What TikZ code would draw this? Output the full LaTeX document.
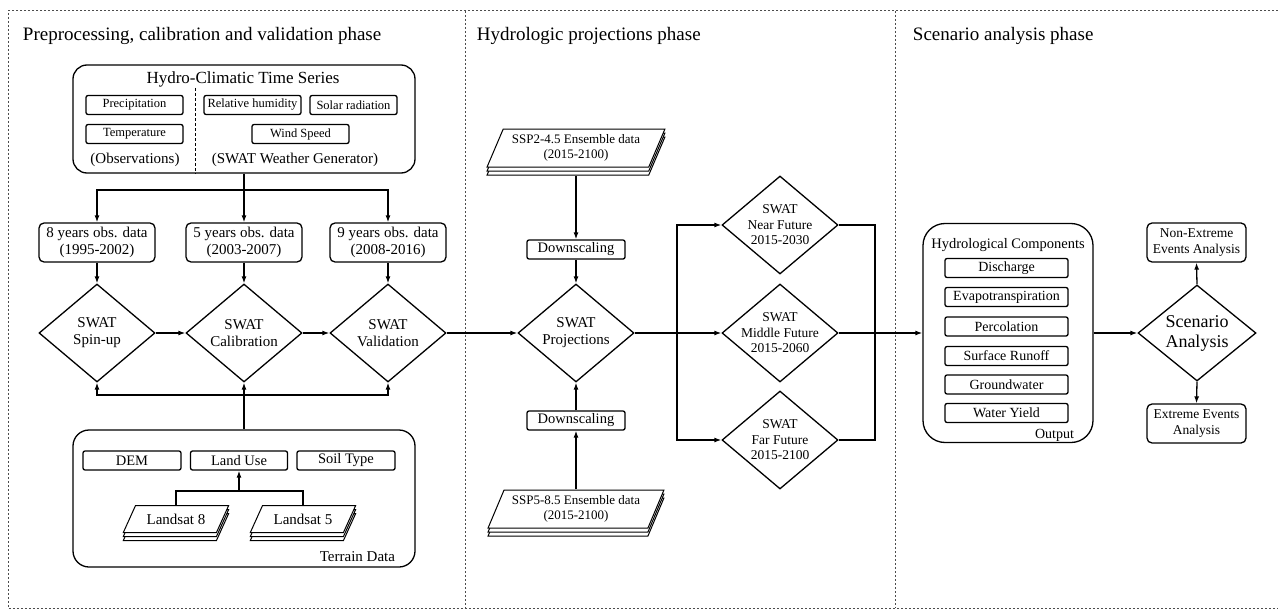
\documentclass[tikz,border=0pt]{standalone}
\usepackage{fontspec}
\setmainfont{Liberation Serif}
\usepackage{tikz}
\usetikzlibrary{positioning, calc, arrows.meta, shapes, shadows}
\tikzset{frame/.style={black!70, line width=1pt, dash pattern=on 2pt off 2pt}}
\tikzset{phase/.style={anchor=west, font=\fontsize{19}{21}\selectfont}}
\tikzset{group/.style={draw, rounded corners=14pt}}
\tikzset{box/.style={draw, fill=white, rounded corners=5pt, inner sep=1pt, align=center, minimum width=116pt, minimum height=39pt}}
\tikzset{item/.style={draw, fill=white, rounded corners=2pt, inner sep=0pt, minimum height=19pt, font=\fontsize{12.5}{14}\selectfont}}
\tikzset{swat/.style={draw, diamond, inner sep=-14pt, align=center, minimum width=116pt, minimum height=98pt}}
\tikzset{stack/.style={draw, fill=white, line width=1pt, trapezium, trapezium stretches=true, inner sep=0pt, align=center,
    double copy shadow={shadow xshift=0pt, shadow yshift=-4pt, draw, fill=white, line width=1pt}}}
\tikzset{flow/.style={-{Latex[length=7pt, width=5pt]}}}

\begin{document}
\begin{tikzpicture}[x=1pt, y=-1pt, line width=1.3pt, font=\fontsize{15}{17}\selectfont]
\useasboundingbox (0,0) rectangle (1278,610);
\draw[frame] (1278,11) -- (8,11) -- (8,608) -- (1278,608);
\draw[frame] (465,11) -- (465,608);
\draw[frame] (895,11) -- (895,608);
\node[phase] (ph1) at (19,36) {Preprocessing, calibration and validation phase};
\node[phase] (ph2) at (473,36) {Hydrologic projections phase};
\node[phase] (ph3) at (909,36) {Scenario analysis phase};

\node[group, minimum width=342pt, minimum height=108pt] (hcts) at (244,119) {};
\node[font=\fontsize{17}{19}\selectfont] (hctstitle) at (243,79) {Hydro-Climatic Time Series};
\draw[line width=0.9pt, densely dashed] (195,88) -- (195,0 |- hcts.south);
\node[item, minimum width=97pt] (prec) at (134.5,105) {Precipitation};
\node[item, minimum width=97pt] (temp) at (134.5,134) {Temperature};
\node[item, minimum width=97pt] (rhum) at (252.5,105) {Relative humidity};
\node[item, minimum width=87pt] (srad) at (353.5,105) {Solar radiation};
\node[item, minimum width=97pt] (wind) at (300.5,134) {Wind Speed};
\node (obs) at (135,160) {(Observations)};
\node (wgen) at (295,160) {(SWAT Weather Generator)};

\node[box] (d1) at (97,242.5) {8 years obs. data\\(1995-2002)};
\node[box] (d2) at (244,242.5) {5 years obs. data\\(2003-2007)};
\node[box] (d3) at (388,242.5) {9 years obs. data\\(2008-2016)};
\coordinate (fork) at (244,190);
\draw[flow] (hcts.south) -- (d2.north);
\draw[flow] (fork) -| (d1.north);
\draw[flow] (fork) -| (d3.north);

\node[swat] (spin) at (97,333) {SWAT\\Spin-up};
\node[swat] (cal) at (244,333) {SWAT\\Calibration};
\node[swat] (val) at (388,333) {SWAT\\Validation};
\draw[flow] (d1.south) -- (spin.north);
\draw[flow] (d2.south) -- (cal.north);
\draw[flow] (d3.south) -- (val.north);
\draw[flow] (spin.east) -- (cal.west);
\draw[flow] (cal.east) -- (val.west);

\node[group, rounded corners=16pt, minimum width=342pt, minimum height=137pt] (terrain) at (244,498.5) {};
\node[item, minimum width=98pt, font=\fontsize{14.5}{16}\selectfont] (dem) at (132,460.5) {DEM};
\node[item, minimum width=97pt, font=\fontsize{14.5}{16}\selectfont] (luse) at (239,460.5) {Land Use};
\node[item, minimum width=98pt, font=\fontsize{14.5}{16}\selectfont] (soil) at (346,460.5) {Soil Type};
\node[stack, minimum width=106pt, minimum height=27pt, trapezium left angle=50, trapezium right angle=130] (ls8) at (176,519) {Landsat 8};
\node[stack, minimum width=106pt, minimum height=27pt, trapezium left angle=50, trapezium right angle=130] (ls5) at (303,519) {Landsat 5};
\node[anchor=base east] (tdata) at (399,561) {Terrain Data};
\coordinate (lsjoin) at (239,491);
\draw[flow] (lsjoin) -- (luse.south);
\draw (ls8.center |- ls8.north) |- (lsjoin) -| (ls5.center |- ls5.north);
\coordinate (join) at (244,395);
\draw[flow] (terrain.north) -- (cal.south);
\draw[flow] (join) -| (spin.south);
\draw[flow] (join) -| (val.south);

\node[stack, minimum width=178pt, minimum height=38pt, trapezium left angle=62, trapezium right angle=118, font=\fontsize{13}{15}\selectfont] (ssp2) at (576,148) {SSP2-4.5 Ensemble data\\(2015-2100)};
\node[item, minimum width=98pt, font=\fontsize{14.5}{16}\selectfont] (down1) at (576,249.5) {Downscaling};
\node[swat] (proj) at (576,333) {SWAT\\Projections};
\node[item, minimum width=98pt, font=\fontsize{14.5}{16}\selectfont] (down2) at (576,420.5) {Downscaling};
\node[stack, minimum width=176pt, minimum height=38pt, trapezium left angle=62, trapezium right angle=118, font=\fontsize{13}{15}\selectfont] (ssp5) at (576,509) {SSP5-8.5 Ensemble data\\(2015-2100)};
\draw[flow] ($(down1.north |- ssp2.south)+(0,8)$) -- (down1.north);
\draw[flow] (down1.south) -- (proj.north);
\draw[flow] (down2.south |- ssp5.north) -- (down2.south);
\draw[flow] (down2.north) -- (proj.south);
\draw[flow] (val.east) -- (proj.west);

\node[swat, font=\fontsize{13.5}{15.5}\selectfont] (near) at (780,225) {SWAT\\Near Future\\2015-2030};
\node[swat, font=\fontsize{13.5}{15.5}\selectfont] (mid) at (780,333) {SWAT\\Middle Future\\2015-2060};
\node[swat, font=\fontsize{13.5}{15.5}\selectfont] (far) at (780,440) {SWAT\\Far Future\\2015-2100};
\coordinate (fan) at (677,333);
\coordinate (merge) at (875,333);
\draw[flow] (proj.east) -- (mid.west);
\draw[flow] (fan) |- (near.west);
\draw[flow] (fan) |- (far.west);
\draw (near.east) -| (merge);
\draw (far.east) -| (merge);

\node[group, rounded corners=22pt, minimum width=170pt, minimum height=219pt] (out) at (1008,333) {};
\node[font=\fontsize{14.5}{16}\selectfont] (hctitle) at (1008,245) {Hydrological Components};
\node[item, minimum width=123pt, font=\fontsize{14}{16}\selectfont] (dis) at (1006.5,268) {Discharge};
\node[item, minimum width=123pt, font=\fontsize{14}{16}\selectfont] (evt) at (1006.5,297) {Evapotranspiration};
\node[item, minimum width=123pt, font=\fontsize{14}{16}\selectfont] (perc) at (1006.5,326.5) {Percolation};
\node[item, minimum width=123pt, font=\fontsize{14}{16}\selectfont] (sro) at (1006.5,356) {Surface Runoff};
\node[item, minimum width=123pt, font=\fontsize{14}{16}\selectfont] (gw) at (1006.5,384.5) {Groundwater};
\node[item, minimum width=123pt, font=\fontsize{14}{16}\selectfont] (wy) at (1006.5,413) {Water Yield};
\node[anchor=base east, font=\fontsize{14}{16}\selectfont] (outlbl) at (1078,438) {Output};
\draw[flow] (mid.east) -- (out.west);

\node[swat, minimum width=118pt, minimum height=96pt, font=\fontsize{18}{20}\selectfont] (scen) at (1197,333) {Scenario\\Analysis};
\node[box, minimum width=99pt, font=\fontsize{13.5}{15.5}\selectfont] (nonext) at (1196.5,242.5) {Non-Extreme\\Events Analysis};
\node[box, minimum width=99pt, font=\fontsize{13.5}{15.5}\selectfont] (ext) at (1196.5,423.5) {Extreme Events\\Analysis};
\draw[flow] (out.east) -- (scen.west);
\draw[flow] (scen.north) -- (nonext.south);
\draw[flow] (scen.south) -- (ext.north);
\end{tikzpicture}
\end{document}
